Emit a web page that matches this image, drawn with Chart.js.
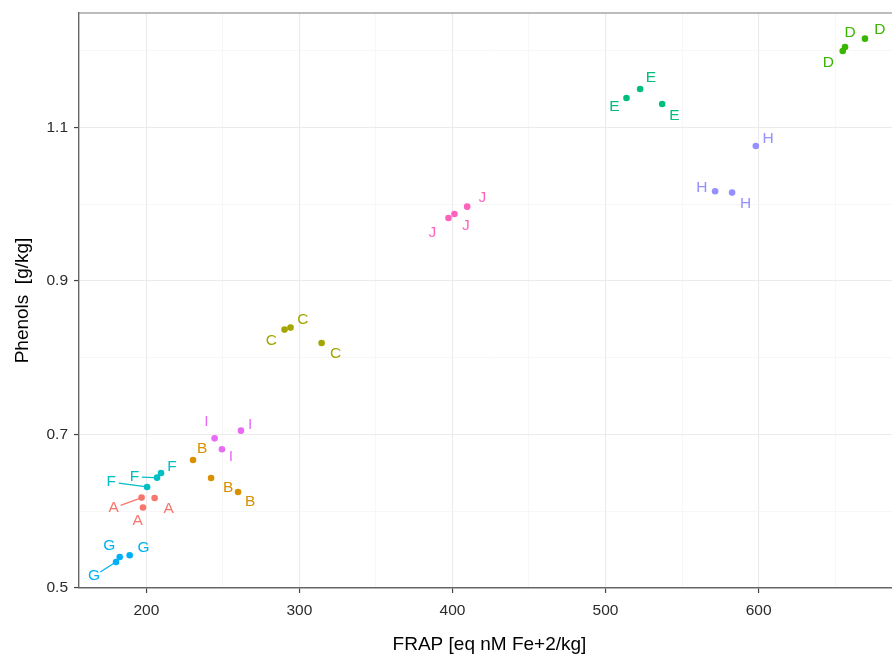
<!DOCTYPE html>
<html>

<head>
	<meta charset="utf-8">
	<script src="https://cdn.jsdelivr.net/npm/chart.js@4.4.1/dist/chart.umd.min.js"></script>
	<style>
		body {
			margin: 0;
			overflow: hidden;
			background: #fff;
		}

		#plot {
			display: block;
		}
	</style>
	<title>Phenols vs FRAP</title>
</head>

<body>
	<canvas id="plot" width="900" height="657"></canvas>

	<script>
		// sample groups, one entry per measured point
		var sampleGroup = ['A', 'A', 'A', 'B', 'B', 'B', 'C', 'C', 'C', 'D', 'D', 'D', 'E', 'E', 'E',
			'F', 'F', 'F', 'G', 'G', 'G', 'H', 'H', 'H', 'I', 'I', 'I', 'J', 'J', 'J'];
		// FRAP [eq nM Fe+2/kg]
		var frapValues = [196.9, 205.4, 197.8, 230.5, 242.3, 259.9, 290.3, 294.2, 314.5, 655.0, 656.5, 669.5,
			513.7, 522.6, 537.0, 200.5, 207.0, 209.6, 180.2, 182.6, 189.1, 598.2, 571.6, 582.7,
			244.6, 249.4, 261.8, 397.4, 401.3, 409.6];
		// Phenols [g/kg]
		var phenolValues = [0.6178, 0.6173, 0.6048, 0.6668, 0.6433, 0.6251, 0.8367, 0.8393, 0.8192,
			1.1997, 1.2049, 1.2158, 1.1384, 1.1502, 1.1306, 0.6316, 0.6438, 0.6498,
			0.5339, 0.5404, 0.5427, 1.0759, 1.0169, 1.0152, 0.6950, 0.6807, 0.7050,
			0.9821, 0.9873, 0.9969];
		// where the repelled text labels sit (data units)
		var labelFrap = [178.6, 214.6, 194.3, 236.4, 253.4, 267.9, 281.6, 302.3, 323.6, 645.6, 659.8, 679.3,
			505.8, 529.6, 545.0, 177.1, 192.2, 216.8, 165.8, 175.8, 198.2, 606.2, 562.9, 591.6,
			239.2, 255.3, 267.9, 386.8, 408.8, 419.6];
		var labelPhenol = [0.6042, 0.6035, 0.5873, 0.6816, 0.6308, 0.6130, 0.8223, 0.8497, 0.8054,
			1.1850, 1.2237, 1.2276, 1.1267, 1.1650, 1.1159, 0.6381, 0.6446, 0.6586,
			0.5156, 0.5547, 0.5526, 1.0850, 1.0217, 1.0009, 0.7163, 0.6707, 0.7129,
			0.9625, 0.9726, 1.0087];
		// labels that get a connecting segment to their point
		var labelSegment = [1, 0, 0, 0, 0, 0, 0, 0, 0, 0, 0, 0, 0, 0, 0,
			1, 1, 0, 1, 0, 0, 0, 0, 0, 0, 0, 0, 0, 0, 0];

		var groups = ['A', 'B', 'C', 'D', 'E', 'F', 'G', 'H', 'I', 'J'];
		var groupColors = ['#F8766D', '#D89000', '#A3A500', '#39B600', '#00BF7D',
			'#00BFC4', '#00B0F6', '#9590FF', '#E76BF3', '#FF62BC'];

		var xTicks = [200, 250, 300, 350, 400, 450, 500, 550, 600, 650];
		var xMajor = [200, 300, 400, 500, 600];
		var yTicks = [0.5, 0.6, 0.7, 0.8, 0.9, 1.0, 1.1, 1.2];
		var yMajor = [0.5, 0.7, 0.9, 1.1];

		var fontFamily = "'Liberation Sans', Arial, sans-serif";

		function colorOf(g) {
			return groupColors[groups.indexOf(g)];
		}

		function noPadding(s) {
			s.paddingLeft = 0;
			s.paddingRight = 0;
			s.paddingTop = 0;
			s.paddingBottom = 0;
		}

		var datasets = groups.map(function (g, k) {
			var pts = [];
			for (var i = 0; i < sampleGroup.length; i++) {
				if (sampleGroup[i] === g) pts.push({ x: frapValues[i], y: phenolValues[i] });
			}
			return {
				label: g,
				data: pts,
				backgroundColor: groupColors[k],
				borderWidth: 0,
				pointRadius: 3.3,
				pointHoverRadius: 3.3
			};
		});

		// text labels (ggrepel style) + top panel edge
		var labelPlugin = {
			id: 'pointLabels',
			afterDatasetsDraw: function (chart) {
				var ctx = chart.ctx;
				var xs = chart.scales.x, ys = chart.scales.y;
				ctx.save();
				for (var i = 0; i < sampleGroup.length; i++) {
					var lx = xs.getPixelForValue(labelFrap[i]);
					var ly = ys.getPixelForValue(labelPhenol[i]);
					var col = colorOf(sampleGroup[i]);
					if (labelSegment[i]) {
						var px = xs.getPixelForValue(frapValues[i]);
						var py = ys.getPixelForValue(phenolValues[i]);
						var dx = px - lx, dy = py - ly;
						var d = Math.sqrt(dx * dx + dy * dy);
						ctx.strokeStyle = col;
						ctx.lineWidth = 1.3;
						ctx.beginPath();
						ctx.moveTo(lx + dx / d * 7.5, ly + dy / d * 7.5);
						ctx.lineTo(px - dx / d * 2, py - dy / d * 2);
						ctx.stroke();
					}
					ctx.fillStyle = col;
					ctx.font = '15.5px ' + fontFamily;
					ctx.textAlign = 'center';
					ctx.textBaseline = 'middle';
					ctx.fillText(sampleGroup[i], lx, ly);
				}
				var a = chart.chartArea;
				ctx.strokeStyle = '#7a7a7a';
				ctx.lineWidth = 1.2;
				ctx.beginPath();
				ctx.moveTo(a.left, a.top);
				ctx.lineTo(a.right, a.top);
				ctx.stroke();
				ctx.restore();
			}
		};

		new Chart(document.getElementById('plot').getContext('2d'), {
			type: 'scatter',
			data: { datasets: datasets },
			options: {
				responsive: false,
				animation: false,
				layout: { autoPadding: false, padding: { top: 13, left: 0, right: 0, bottom: 0 } },
				plugins: {
					legend: { display: false },
					tooltip: { enabled: false }
				},
				scales: {
					x: {
						type: 'linear',
						min: 156.0,
						max: 692.4,
						afterFit: function (s) { s.height = 69; noPadding(s); },
						afterBuildTicks: function (s) {
							s.ticks = xTicks.map(function (v) { return { value: v }; });
						},
						ticks: {
							autoSkip: false,
							maxRotation: 0,
							padding: 8,
							color: '#2b2b2b',
							font: { family: fontFamily, size: 15.5 },
							callback: function (v) { return xMajor.indexOf(v) >= 0 ? String(v) : ''; }
						},
						grid: {
							tickLength: 5,
							color: function (c) { return c.tick && xMajor.indexOf(c.tick.value) >= 0 ? '#ebebeb' : '#f4f4f4'; },
							lineWidth: function (c) { return c.tick && xMajor.indexOf(c.tick.value) >= 0 ? 1.1 : 0.7; },
							tickColor: function (c) { return c.tick && xMajor.indexOf(c.tick.value) >= 0 ? '#444' : 'rgba(0,0,0,0)'; },
							tickWidth: 1.2
						},
						border: { color: '#666', width: 1.4 },
						title: {
							display: true,
							text: 'FRAP [eq nM Fe+2/kg]',
							color: '#000',
							font: { family: fontFamily, size: 19 },
							padding: { top: 0, bottom: 1 }
						}
					},
					y: {
						type: 'linear',
						min: 0.5,
						max: 1.2492,
						afterFit: function (s) { s.width = 79; noPadding(s); },
						afterBuildTicks: function (s) {
							s.ticks = yTicks.map(function (v) { return { value: v }; });
						},
						ticks: {
							autoSkip: false,
							padding: 6,
							color: '#2b2b2b',
							font: { family: fontFamily, size: 15.5 },
							callback: function (v) { return yMajor.indexOf(v) >= 0 ? v.toFixed(1) : ''; }
						},
						grid: {
							tickLength: 5,
							color: function (c) { return c.tick && yMajor.indexOf(c.tick.value) >= 0 ? '#ebebeb' : '#f4f4f4'; },
							lineWidth: function (c) { return c.tick && yMajor.indexOf(c.tick.value) >= 0 ? 1.1 : 0.7; },
							tickColor: function (c) { return c.tick && yMajor.indexOf(c.tick.value) >= 0 ? '#444' : 'rgba(0,0,0,0)'; },
							tickWidth: 1.2
						},
						border: { color: '#666', width: 1.4 },
						title: {
							display: true,
							text: 'Phenols  [g/kg]',
							color: '#000',
							font: { family: fontFamily, size: 19 },
							padding: { top: 11.5, bottom: 0 }
						}
					}
				}
			},
			plugins: [labelPlugin]
		});
	</script>
</body>

</html>
